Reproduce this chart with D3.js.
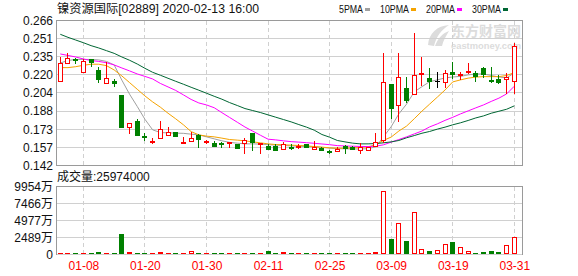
<!DOCTYPE html>
<html>
<head>
<meta charset="utf-8">
<script src="https://cdn.jsdelivr.net/npm/d3@7"></script>
<style>
body { margin: 0; background: #fff; }
svg { display: block; font-family: "Liberation Sans", Arial, "Noto Sans CJK SC", sans-serif; }
</style>
</head>
<body>
<div id="chart"></div>
<script>
// ---- data ----
let title = '镍资源国际[02889] 2020-02-13 16:00';

let dates = ['01-03','01-06','01-07','01-08','01-09','01-10','01-13','01-14','01-15','01-16',
    '01-17','01-20','01-21','01-22','01-23','01-24','01-27','01-28','01-29','01-30',
    '01-31','02-03','02-04','02-05','02-06','02-07','02-10','02-11','02-12','02-13',
    '02-17','02-18','02-19','02-20','02-24','02-25','02-26','02-27','02-28','03-02',
    '03-03','03-04','03-05','03-09','03-10','03-11','03-12','03-13','03-16','03-17',
    '03-18','03-19','03-20','03-23','03-24','03-25','03-26','03-27','03-30','03-31'];

let opens = [0.2146,0.2300,0.2330,0.2218,0.2329,0.2237,0.2124,0.2146,0.2024,0.1748,
    0.1802,0.1670,0.1628,0.1654,0.1682,0.1705,0.1611,0.1631,0.1682,0.1622,
    0.1611,0.1614,0.1618,0.1603,0.1611,0.1697,0.1605,0.1591,0.1591,0.1565,
    0.1580,0.1585,0.1605,0.1560,0.1569,0.1545,0.1548,0.1588,0.1580,0.1554,
    0.1554,0.1591,0.1639,0.2118,0.1938,0.2081,0.2030,0.2205,0.2170,0.2143,
    0.2137,0.2223,0.2200,0.2226,0.2209,0.2252,0.2155,0.2158,0.2158,0.2146];
let highs = [0.2351,0.2380,0.2337,0.2329,0.2335,0.2265,0.2303,0.2158,0.2024,0.1785,
    0.1819,0.1697,0.1654,0.1802,0.1745,0.1705,0.1663,0.1705,0.1690,0.1635,
    0.1631,0.1625,0.1625,0.1603,0.1654,0.1697,0.1611,0.1605,0.1605,0.1625,
    0.1603,0.1605,0.1605,0.1631,0.1574,0.1554,0.1574,0.1592,0.1588,0.1611,
    0.1580,0.1697,0.2380,0.2118,0.2380,0.2175,0.2556,0.2346,0.2252,0.2223,
    0.2238,0.2308,0.2223,0.2300,0.2231,0.2266,0.2266,0.2195,0.2209,0.2471];
let lows = [0.2146,0.2295,0.2295,0.2218,0.2270,0.2137,0.2124,0.2101,0.1753,0.1697,
    0.1685,0.1639,0.1611,0.1654,0.1682,0.1668,0.1611,0.1631,0.1582,0.1611,
    0.1591,0.1582,0.1582,0.1569,0.1531,0.1554,0.1531,0.1563,0.1554,0.1560,
    0.1560,0.1570,0.1574,0.1560,0.1554,0.1525,0.1540,0.1531,0.1560,0.1531,
    0.1554,0.1585,0.1620,0.1830,0.1802,0.1960,0.2030,0.2109,0.2081,0.2095,
    0.2095,0.2166,0.2158,0.2209,0.2146,0.2175,0.2137,0.2123,0.2038,0.2040];
let closes = [0.2294,0.2337,0.2325,0.2317,0.2303,0.2160,0.2166,0.2124,0.1753,0.1782,
    0.1685,0.1666,0.1632,0.1731,0.1705,0.1668,0.1625,0.1651,0.1645,0.1631,
    0.1591,0.1610,0.1622,0.1569,0.1634,0.1617,0.1611,0.1563,0.1554,0.1605,
    0.1575,0.1590,0.1582,0.1582,0.1554,0.1541,0.1560,0.1569,0.1565,0.1582,
    0.1574,0.1620,0.2132,0.1910,0.2175,0.1981,0.2195,0.2212,0.2143,0.2143,
    0.2209,0.2200,0.2206,0.2232,0.2186,0.2200,0.2150,0.2137,0.2180,0.2442];

// volume, in 万 shares
let volumes = [242,97,97,97,97,387,242,242,2996,387,
    97,97,97,387,97,97,242,483,97,97,
    242,97,97,97,97,97,97,532,97,387,
    242,97,97,242,97,97,97,97,242,97,
    97,387,9229,2271,4639,1981,6185,821,580,676,
    1546,1884,1111,532,290,435,580,435,1401,2597.4];

let ma5 = [0.2297,0.2318,0.2327,0.2327,0.2327,0.2323,0.2310,0.2280,0.2150,0.2030,
    0.1925,0.1815,0.1725,0.1702,0.1699,0.1697,0.1695,0.1688,0.1682,0.1665,
    0.1648,0.1631,0.1618,0.1611,0.1605,0.1605,0.1603,0.1598,0.1595,0.1591,
    0.1588,0.1585,0.1582,0.1580,0.1575,0.1569,0.1564,0.1563,0.1561,0.1561,
    0.1564,0.1580,0.1665,0.1752,0.1862,0.1945,0.2050,0.2094,0.2137,0.2152,
    0.2169,0.2177,0.2182,0.2195,0.2203,0.2203,0.2190,0.2177,0.2169,0.2212];
let ma10 = [0.2257,0.2257,0.2265,0.2277,0.2286,0.2286,0.2274,0.2237,0.2186,0.2129,
    0.2072,0.2015,0.1964,0.1919,0.1867,0.1819,0.1768,0.1710,0.1682,0.1671,
    0.1665,0.1654,0.1642,0.1637,0.1631,0.1622,0.1614,0.1605,0.1599,0.1597,
    0.1594,0.1591,0.1588,0.1582,0.1577,0.1571,0.1568,0.1568,0.1571,0.1574,
    0.1580,0.1597,0.1635,0.1663,0.1715,0.1757,0.1820,0.1885,0.1945,0.2005,
    0.2066,0.2135,0.2152,0.2167,0.2176,0.2180,0.2180,0.2180,0.2190,0.2214];
let ma20 = [0.2374,0.2361,0.2348,0.2331,0.2318,0.2310,0.2299,0.2280,0.2254,0.2229,
    0.2203,0.2182,0.2160,0.2122,0.2092,0.2062,0.2024,0.1985,0.1955,0.1938,
    0.1914,0.1872,0.1831,0.1790,0.1749,0.1714,0.1679,0.1645,0.1639,0.1631,
    0.1624,0.1620,0.1615,0.1610,0.1604,0.1598,0.1590,0.1587,0.1585,0.1583,
    0.1582,0.1585,0.1597,0.1620,0.1642,0.1665,0.1690,0.1715,0.1750,0.1776,
    0.1806,0.1832,0.1861,0.1887,0.1913,0.1938,0.1968,0.1996,0.2032,0.2098];
let ma30 = [0.2542,0.2516,0.2493,0.2470,0.2445,0.2425,0.2402,0.2379,0.2348,0.2320,
    0.2288,0.2251,0.2217,0.2192,0.2166,0.2140,0.2115,0.2089,0.2064,0.2038,
    0.2012,0.1987,0.1958,0.1933,0.1907,0.1890,0.1873,0.1853,0.1833,0.1813,
    0.1793,0.1770,0.1748,0.1722,0.1685,0.1662,0.1634,0.1622,0.1611,0.1605,
    0.1605,0.1608,0.1614,0.1622,0.1634,0.1657,0.1676,0.1696,0.1711,0.1731,
    0.1748,0.1768,0.1785,0.1805,0.1827,0.1844,0.1867,0.1884,0.1901,0.1930];

let maNames = ['5PMA', '10PMA', '20PMA', '30PMA'];
let priceMin = 0.142, priceMax = 0.266;
let priceTickLabels = ['0.142','0.157','0.173','0.188','0.204','0.220','0.235','0.251','0.266'];
let volMax = 9954;
let volTickLabels = ['0', '2489万', '4977万', '7466万', '9954万'];
let xTickLabels = ['01-08','01-20','01-30','02-11','02-25','03-09','03-19','03-31'];

// ---- layout ----
let W = 578, H = 276;
let left = 56.5, right = 522.5;
let priceTop = 20.5, priceBottom = 165.5;
let volTop = 186.5, volBottom = 254.5;
let RED = '#ff0000', GREEN = '#008000';
let maColors = ['#a0a0a0', '#f5a300', '#ff00ff', '#006633'];
let gridColor = '#d0d0d0', borderColor = '#9a9a9a';

let svg = d3.select('#chart').append('svg')
    .attr('width', W).attr('height', H);

let x = d3.scalePoint()
    .domain(d3.range(dates.length))
    .range([60.3, 514.3]);
let yP = d3.scaleLinear().domain([priceMin, priceMax]).range([priceBottom, priceTop]);
let yV = d3.scaleLinear().domain([0, volMax]).range([volBottom, volTop]);

function px(i) { return Math.floor(x(i)) + 0.5; }

let priceTicks = priceTickLabels.map(function(d, k) {
    return priceMin + k * (priceMax - priceMin) / (priceTickLabels.length - 1);
});
let volTicks = volTickLabels.map(function(d, k) {
    return k * volMax / (volTickLabels.length - 1);
});
let xTicks = xTickLabels.map(function(d) { return dates.indexOf(d); });

// ---- watermark ----
let wm = svg.append('g').attr('fill', '#dcdcdc');
wm.append('path').attr('d', 'M428,45 C429,33 437,26 449,25 C441,30 436,37 434,46 Z');
wm.append('path').attr('d', 'M435,46 C438,38 443,33 449,31 C446,36 443,41 442,46 Z');
wm.append('text').attr('x', 451).attr('y', 35.5).attr('font-size', 14).attr('font-weight', 'bold')
    .attr('textLength', 70).attr('lengthAdjust', 'spacingAndGlyphs')
    .style('font-family', '"Noto Sans CJK SC", sans-serif').text('东方财富网');
wm.append('text').attr('x', 451).attr('y', 48.5).attr('font-size', 9).attr('font-weight', 'bold')
    .attr('textLength', 70).attr('lengthAdjust', 'spacingAndGlyphs').text('eastmoney.com');

// ---- grids ----
let grid = svg.append('g').attr('shape-rendering', 'crispEdges');
grid.selectAll('line.hp').data(priceTicks).enter().append('line')
    .attr('x1', left).attr('x2', right)
    .attr('y1', function(d) { return Math.round(yP(d) - 0.5) + 0.5; })
    .attr('y2', function(d) { return Math.round(yP(d) - 0.5) + 0.5; })
    .attr('stroke', gridColor);
grid.selectAll('line.hv').data(volTicks).enter().append('line')
    .attr('x1', left).attr('x2', right)
    .attr('y1', function(d) { return Math.round(yV(d) - 0.5) + 0.5; })
    .attr('y2', function(d) { return Math.round(yV(d) - 0.5) + 0.5; })
    .attr('stroke', gridColor);
[[priceTop, priceBottom], [volTop, volBottom]].forEach(function(r) {
    grid.selectAll(null).data(xTicks).enter().append('line')
        .attr('x1', px).attr('x2', px)
        .attr('y1', r[0]).attr('y2', r[1])
        .attr('stroke', gridColor).attr('stroke-dasharray', '4,3');
});

// panel borders
svg.append('path')
    .attr('d', 'M' + left + ',' + priceBottom + 'V' + priceTop + 'H' + right + 'V' + priceBottom + 'H' + left +
        'M' + left + ',' + volBottom + 'V' + volTop + 'H' + right + 'V' + volBottom)
    .attr('fill', 'none').attr('stroke', borderColor).attr('shape-rendering', 'crispEdges');

// ---- axes ----
let axisP = d3.axisLeft(yP).tickValues(priceTicks).tickSize(0).tickPadding(3)
    .tickFormat(function(d, k) { return priceTickLabels[k]; });
let gP = svg.append('g').attr('transform', 'translate(' + (left - 0.5) + ',0)').call(axisP);
let axisV = d3.axisLeft(yV).tickValues(volTicks).tickSize(0).tickPadding(3)
    .tickFormat(function(d, k) { return volTickLabels[k]; });
let gV = svg.append('g').attr('transform', 'translate(' + (left - 0.5) + ',0)').call(axisV);
let axisX = d3.axisBottom(x).tickValues(xTicks).tickSize(0).tickPadding(3)
    .tickFormat(function(i) { return dates[i]; });
let gX = svg.append('g').attr('transform', 'translate(0,258)').call(axisX);

[gP, gV, gX].forEach(function(g) {
    g.select('.domain').remove();
    g.attr('font-family', null).attr('font-size', 12);
    g.selectAll('text').attr('fill', '#111');
});
gX.selectAll('text').attr('fill', RED);

// ---- moving averages ----
[ma5, ma10, ma20, ma30].forEach(function(series, k) {
    let line = d3.line()
        .x(function(d, i) { return x(i); })
        .y(function(d) { return yP(d); });
    svg.append('path').datum(series)
        .attr('d', line)
        .attr('fill', 'none')
        .attr('stroke', maColors[k])
        .attr('stroke-width', 1);
});

// ---- candles ----
let gc = svg.append('g').attr('shape-rendering', 'crispEdges');
dates.forEach(function(d, i) {
    let o = opens[i], c = closes[i];
    let cx = px(i);
    let top = Math.round(yP(Math.max(o, c)));
    let bot = Math.round(yP(Math.min(o, c)));
    let hi = Math.round(yP(highs[i]));
    let lo = Math.round(yP(lows[i]));
    let color = c > o ? RED : (c < o ? GREEN : '#000');

    if (hi < top) gc.append('line').attr('x1', cx).attr('x2', cx).attr('y1', hi).attr('y2', top).attr('stroke', color);
    if (lo > bot) gc.append('line').attr('x1', cx).attr('x2', cx).attr('y1', bot).attr('y2', lo + 1).attr('stroke', color);

    if (c > o) {
        gc.append('rect').attr('x', cx - 2).attr('y', top + 0.5)
            .attr('width', 4).attr('height', Math.max(bot - top, 1))
            .attr('fill', '#fff').attr('stroke', RED);
    } else if (c < o) {
        gc.append('rect').attr('x', cx - 2.5).attr('y', top)
            .attr('width', 5).attr('height', Math.max(bot - top, 1) + 1)
            .attr('fill', GREEN);
    } else {
        gc.append('line').attr('x1', cx - 2.5).attr('x2', cx + 2.5)
            .attr('y1', top + 0.5).attr('y2', top + 0.5).attr('stroke', color);
    }
});

// ---- volume bars ----
let gv = svg.append('g').attr('shape-rendering', 'crispEdges');
let base = Math.floor(yV(0));
volumes.forEach(function(v, i) {
    let cx = px(i);
    let t = Math.min(Math.round(yV(v)), base - 1);
    if (closes[i] >= opens[i]) {
        if (base - t < 3) {
            gv.append('rect').attr('x', cx - 2.5).attr('y', t).attr('width', 5).attr('height', base - t)
                .attr('fill', RED);
        } else {
            gv.append('rect').attr('x', cx - 2).attr('y', t + 0.5).attr('width', 4).attr('height', base - t - 1)
                .attr('fill', '#fff').attr('stroke', RED);
        }
    } else {
        gv.append('rect').attr('x', cx - 2.5).attr('y', t).attr('width', 5).attr('height', base - t)
            .attr('fill', GREEN);
    }
});

// ---- title, legend, volume caption ----
svg.append('text').attr('x', 57).attr('y', 13).attr('font-size', 12).attr('fill', '#111')
    .attr('textLength', 202).attr('lengthAdjust', 'spacingAndGlyphs')
    .text(title);

let legendX = [339, 380, 426, 472];
let legendW = [24, 29, 29, 29];
maNames.forEach(function(name, k) {
    svg.append('text').attr('x', legendX[k]).attr('y', 12.5).attr('font-size', 11).attr('fill', '#111')
        .attr('textLength', legendW[k]).attr('lengthAdjust', 'spacingAndGlyphs')
        .text(name);
    svg.append('rect').attr('x', legendX[k] + legendW[k] + 2).attr('y', 8)
        .attr('width', 5).attr('height', 3).attr('fill', maColors[k]);
});

svg.append('text').attr('x', 57).attr('y', 181).attr('font-size', 12).attr('fill', '#111')
    .text('成交量:' + Math.round(volumes[volumes.length - 1] * 10000));
</script>
</body>
</html>
